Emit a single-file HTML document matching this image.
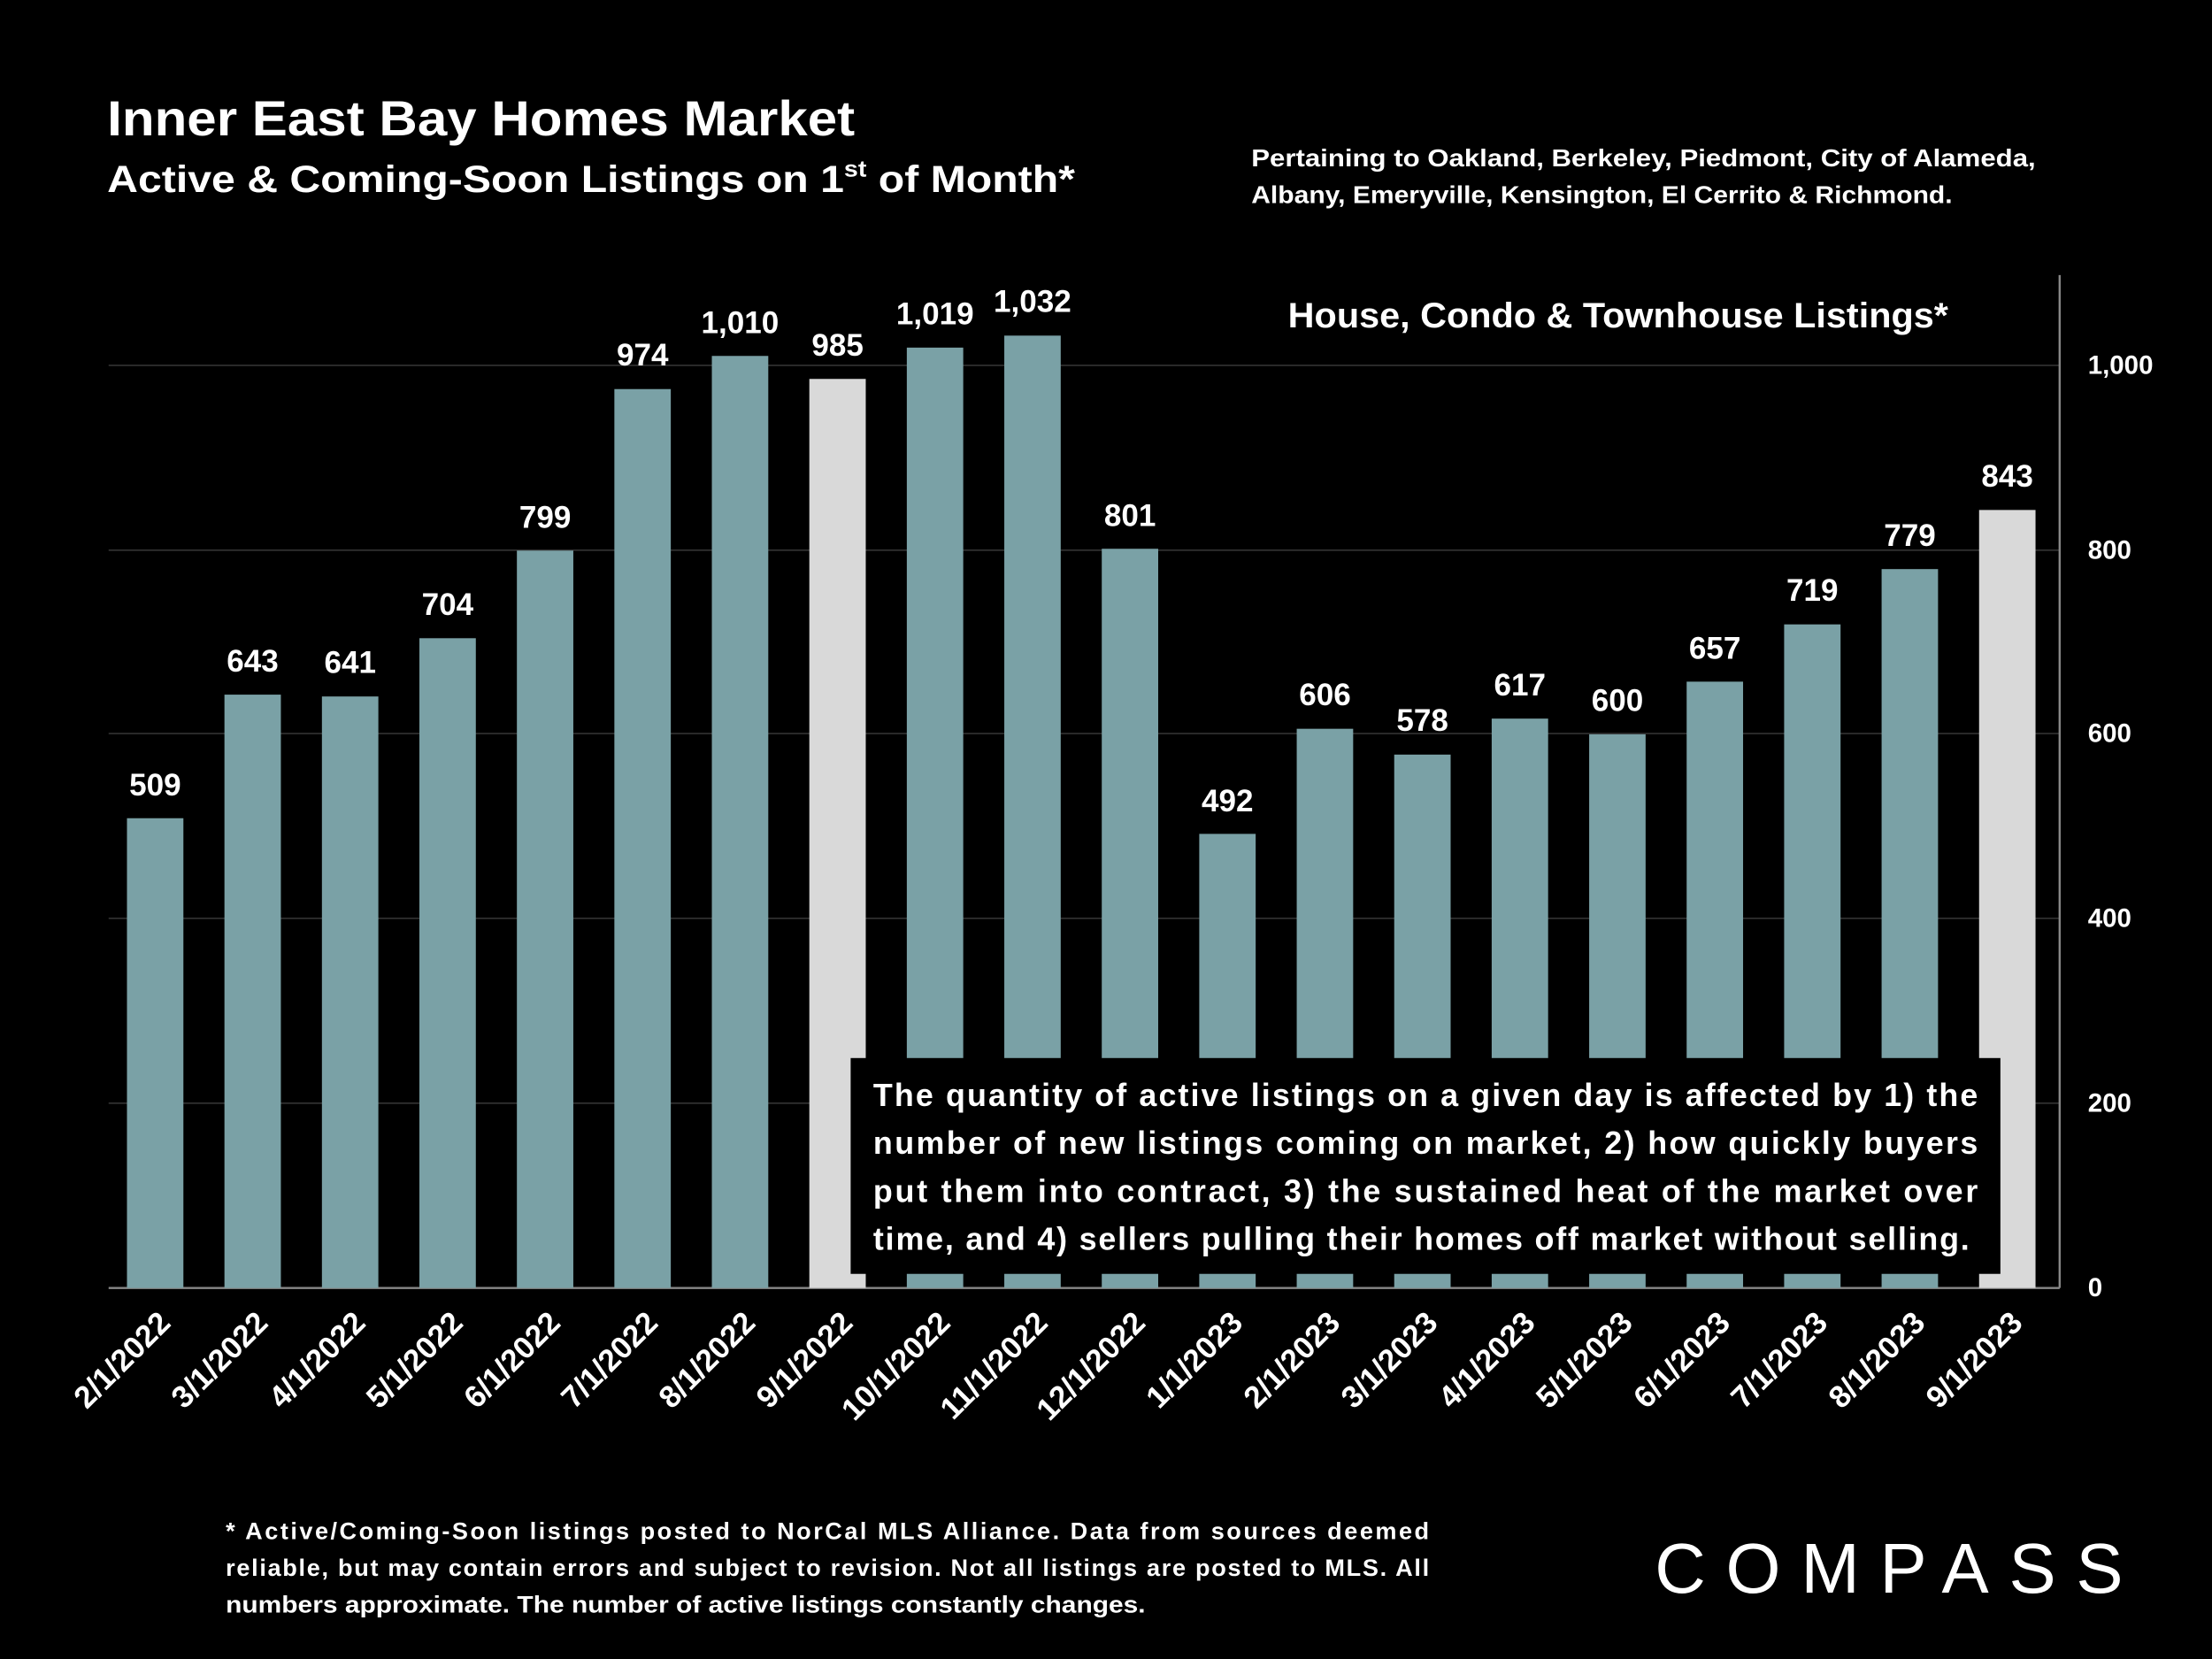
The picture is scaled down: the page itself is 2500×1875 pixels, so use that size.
<!DOCTYPE html>
<html><head><meta charset="utf-8"><style>
html,body{margin:0;padding:0;background:#000;}
svg{display:block}
text{font-family:"Liberation Sans",sans-serif;fill:#fff;font-weight:bold}
</style></head><body>
<svg width="2500" height="1875" viewBox="0 0 1568 1176" preserveAspectRatio="none" xmlns="http://www.w3.org/2000/svg">
<rect width="1568" height="1176" fill="#000"/>
<text x="76" y="96" font-size="35" textLength="530" lengthAdjust="spacingAndGlyphs">Inner East Bay Homes Market</text>
<text x="76" y="136" font-size="27" textLength="686" lengthAdjust="spacingAndGlyphs">Active &amp; Coming-Soon Listings on 1<tspan font-size="16" dy="-11">st</tspan><tspan dy="11"> of Month*</tspan></text>
<text x="887" y="118" font-size="17.5" textLength="556" lengthAdjust="spacingAndGlyphs">Pertaining to Oakland, Berkeley, Piedmont, City of Alameda,</text>
<text x="887" y="144" font-size="17.5" textLength="497" lengthAdjust="spacingAndGlyphs">Albany, Emeryville, Kensington, El Cerrito &amp; Richmond.</text>
<g stroke="#333" stroke-width="1">
<line x1="77" x2="1460" y1="782" y2="782"/><line x1="77" x2="1460" y1="651" y2="651"/>
<line x1="77" x2="1460" y1="520" y2="520"/><line x1="77" x2="1460" y1="390" y2="390"/>
<line x1="77" x2="1460" y1="259" y2="259"/>
</g>
<line x1="1460" x2="1460" y1="195" y2="913" stroke="#888" stroke-width="1.5"/>
<line x1="77" x2="1460" y1="913" y2="913" stroke="#888" stroke-width="1.5"/>
<g font-size="18.5">
<text x="1480" y="919">0</text><text x="1480" y="788">200</text><text x="1480" y="657">400</text>
<text x="1480" y="526">600</text><text x="1480" y="396">800</text><text x="1480" y="265">1,000</text>
</g>
<text x="1147" y="232" font-size="25" text-anchor="middle" textLength="468" lengthAdjust="spacingAndGlyphs">House, Condo &amp; Townhouse Listings*</text>
<g fill="#7aa1a6">
<rect x="90" y="580.0" width="40" height="333.0"/>
<rect x="159.1" y="492.4" width="40" height="420.6"/>
<rect x="228.2" y="493.7" width="40" height="419.3"/>
<rect x="297.3" y="452.4" width="40" height="460.6"/>
<rect x="366.4" y="390.3" width="40" height="522.7"/>
<rect x="435.5" y="275.8" width="40" height="637.2"/>
<rect x="504.6" y="252.3" width="40" height="660.7"/>
<rect x="573.7" y="268.6" width="40" height="644.4" fill="#d9d9d9"/>
<rect x="642.8" y="246.4" width="40" height="666.6"/>
<rect x="711.9" y="237.9" width="40" height="675.1"/>
<rect x="781.0" y="389.0" width="40" height="524.0"/>
<rect x="850.1" y="591.1" width="40" height="321.9"/>
<rect x="919.2" y="516.6" width="40" height="396.4"/>
<rect x="988.3" y="534.9" width="40" height="378.1"/>
<rect x="1057.4" y="509.4" width="40" height="403.6"/>
<rect x="1126.5" y="520.5" width="40" height="392.5"/>
<rect x="1195.6" y="483.2" width="40" height="429.8"/>
<rect x="1264.7" y="442.6" width="40" height="470.4"/>
<rect x="1333.8" y="403.4" width="40" height="509.6"/>
<rect x="1402.9" y="361.5" width="40" height="551.5" fill="#d9d9d9"/>
</g>
<g font-size="22" text-anchor="middle">
<text x="110" y="564">509</text>
<text x="179.1" y="476">643</text>
<text x="248.2" y="477">641</text>
<text x="317.3" y="436">704</text>
<text x="386.4" y="374">799</text>
<text x="455.5" y="259">974</text>
<text x="524.6" y="236">1,010</text>
<text x="593.7" y="252">985</text>
<text x="662.8" y="230">1,019</text>
<text x="731.9" y="221">1,032</text>
<text x="801.0" y="373">801</text>
<text x="870.1" y="575">492</text>
<text x="939.2" y="500">606</text>
<text x="1008.3" y="518">578</text>
<text x="1077.4" y="493">617</text>
<text x="1146.5" y="504">600</text>
<text x="1215.6" y="467">657</text>
<text x="1284.7" y="426">719</text>
<text x="1353.8" y="387">779</text>
<text x="1422.9" y="345">843</text>
</g>
<g font-size="22" text-anchor="end">
<text transform="translate(122,939) rotate(-45)">2/1/2022</text>
<text transform="translate(191.1,939) rotate(-45)">3/1/2022</text>
<text transform="translate(260.2,939) rotate(-45)">4/1/2022</text>
<text transform="translate(329.3,939) rotate(-45)">5/1/2022</text>
<text transform="translate(398.4,939) rotate(-45)">6/1/2022</text>
<text transform="translate(467.5,939) rotate(-45)">7/1/2022</text>
<text transform="translate(536.6,939) rotate(-45)">8/1/2022</text>
<text transform="translate(605.7,939) rotate(-45)">9/1/2022</text>
<text transform="translate(674.8,939) rotate(-45)">10/1/2022</text>
<text transform="translate(743.9,939) rotate(-45)">11/1/2022</text>
<text transform="translate(813.0,939) rotate(-45)">12/1/2022</text>
<text transform="translate(882.1,939) rotate(-45)">1/1/2023</text>
<text transform="translate(951.2,939) rotate(-45)">2/1/2023</text>
<text transform="translate(1020.3,939) rotate(-45)">3/1/2023</text>
<text transform="translate(1089.4,939) rotate(-45)">4/1/2023</text>
<text transform="translate(1158.5,939) rotate(-45)">5/1/2023</text>
<text transform="translate(1227.6,939) rotate(-45)">6/1/2023</text>
<text transform="translate(1296.7,939) rotate(-45)">7/1/2023</text>
<text transform="translate(1365.8,939) rotate(-45)">8/1/2023</text>
<text transform="translate(1434.9,939) rotate(-45)">9/1/2023</text>
</g>
<rect x="603" y="750" width="815" height="153" fill="#000"/>
<g font-size="22.5">
<text x="619" y="784" textLength="783" lengthAdjust="spacing">The quantity of active listings on a given day is affected by 1) the</text>
<text x="619" y="818" textLength="783" lengthAdjust="spacing">number of new listings coming on market, 2) how quickly buyers</text>
<text x="619" y="852" textLength="783" lengthAdjust="spacing">put them into contract, 3) the sustained heat of the market over</text>
<text x="619" y="886" textLength="777" lengthAdjust="spacing">time, and 4) sellers pulling their homes off market without selling.</text>
</g>
<g font-size="17">
<text x="160" y="1091" textLength="853" lengthAdjust="spacing">* Active/Coming-Soon listings posted to NorCal MLS Alliance.  Data from sources deemed</text>
<text x="160" y="1117" textLength="853" lengthAdjust="spacing">reliable, but may contain errors and subject to revision.  Not all listings are posted to MLS. All</text>
<text x="160" y="1143" textLength="652" lengthAdjust="spacingAndGlyphs">numbers approximate. The number of active listings constantly changes.</text>
</g>
<text x="1173" y="1129" font-size="50" style="font-weight:normal" textLength="332" lengthAdjust="spacing">COMPASS</text>
</svg>
</body></html>
